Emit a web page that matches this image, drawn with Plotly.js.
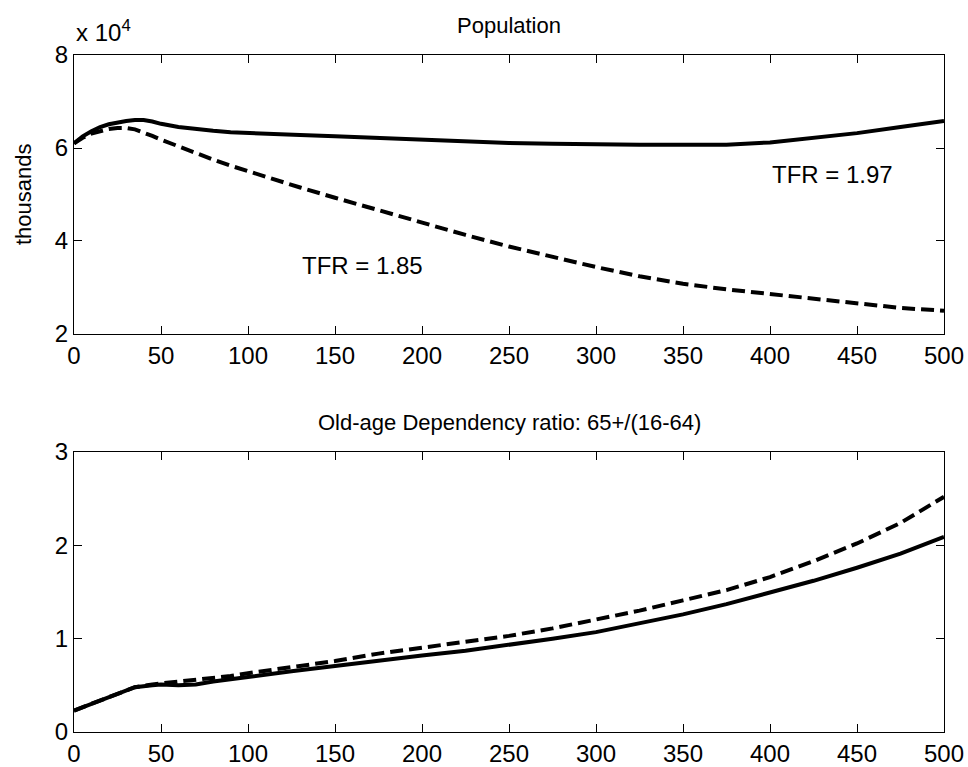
<!DOCTYPE html>
<html>
<head>
<meta charset="utf-8">
<script src="https://cdn.plot.ly/plotly-3.0.1.min.js"></script>
<style>html,body{margin:0;padding:0;background:#fff;}#chart{width:968px;height:767px;}</style>
</head>
<body>
<div id="chart"></div>
<script>
// Top panel: population (thousands)
var yearsTop = [0,5,10,15,20,25,30,35,40,45,50,60,70,80,90,100,115,130,150,175,200,225,250,275,300,325,350,375,400,425,450,475,500];
var popTFR197 = [61000,62500,63600,64500,65100,65500,65800,66000,66000,65700,65200,64500,64000,63700,63400,63200,63000,62800,62500,62100,61800,61400,61100,60900,60700,60700,60700,60700,61200,62100,63200,64500,65800];
var popTFR185 = [61000,62200,63100,63700,64100,64300,64300,64000,63400,62600,61800,60300,58800,57500,56200,55000,53300,51500,49300,46600,43800,41300,38800,36500,34400,32400,30800,29600,28600,27400,26400,25600,25000];

// Bottom panel: old-age dependency ratio
var yearsBottom = [0,10,20,30,35,45,50,60,70,80,90,100,125,150,175,200,225,250,275,300,325,350,375,400,425,450,475,500];
var depTFR197 = [0.23,0.30,0.37,0.45,0.48,0.50,0.51,0.50,0.51,0.54,0.57,0.59,0.65,0.71,0.77,0.82,0.87,0.93,1.00,1.07,1.16,1.26,1.37,1.49,1.62,1.76,1.91,2.09];
var depTFR185 = [0.23,0.30,0.37,0.45,0.48,0.51,0.52,0.53,0.55,0.58,0.60,0.63,0.69,0.76,0.84,0.90,0.96,1.03,1.11,1.20,1.30,1.41,1.52,1.66,1.83,2.02,2.24,2.52];

var topTickVals = [20000,40000,60000,80000];
var topTickText = ['2','4','6','8'];
var xTicks = [0,50,100,150,200,250,300,350,400,450,500];

var FONT = 'Liberation Sans, Arial, Helvetica, sans-serif';
var LW = 4;
var DASH = '13px,6px';

var traces = [
  {x: yearsTop, y: popTFR197, xaxis:'x', yaxis:'y', mode:'lines', line:{color:'#000', width:LW}},
  {x: yearsTop, y: popTFR185, xaxis:'x', yaxis:'y', mode:'lines', line:{color:'#000', width:LW, dash:DASH}},
  {x: yearsBottom, y: depTFR197, xaxis:'x2', yaxis:'y2', mode:'lines', line:{color:'#000', width:LW}},
  {x: yearsBottom, y: depTFR185, xaxis:'x2', yaxis:'y2', mode:'lines', line:{color:'#000', width:LW, dash:DASH}}
];

function axisBase(extra){
  var a = {showgrid:false, zeroline:false, showline:true, linecolor:'#000', linewidth:1,
    mirror:'ticks', ticks:'inside', ticklen:8, tickcolor:'#000', tickwidth:1,
    tickfont:{family:FONT, size:24, color:'#000'}, fixedrange:true};
  for (var k in extra) a[k] = extra[k];
  return a;
}

var layout = {
  width:968, height:767,
  margin:{l:74, r:24, t:55, b:35},
  paper_bgcolor:'#fff', plot_bgcolor:'#fff',
  showlegend:false,
  font:{family:FONT, size:24, color:'#000'},
  xaxis: axisBase({domain:[0,1], range:[0,500], tickvals:xTicks, anchor:'y'}),
  yaxis: axisBase({domain:[0.5879,1], range:[20000,80000], tickvals:topTickVals, ticktext:topTickText, anchor:'x'}),
  xaxis2: axisBase({domain:[0,1], range:[0,500], tickvals:xTicks, anchor:'y2'}),
  yaxis2: axisBase({domain:[0,0.4136], range:[0,3], tickvals:[0,1,2,3], anchor:'x2'}),
  annotations:[
    {text:'Population', xref:'x domain', yref:'y domain', x:0.5, y:1.1075, xanchor:'center', yanchor:'middle', showarrow:false, font:{family:FONT, size:22, color:'#000'}},
    {text:'x 10<sup>4</sup>', xref:'x domain', yref:'y domain', x:0, y:1.085, xanchor:'left', yanchor:'middle', showarrow:false, font:{family:FONT, size:24, color:'#000'}},
    {text:'thousands', xref:'paper', yref:'y domain', x:-0.058, y:0.5, xanchor:'center', yanchor:'middle', textangle:-90, showarrow:false, font:{family:FONT, size:22, color:'#000'}},
    {text:'TFR = 1.97', xref:'x', yref:'y', x:400, y:54200, xanchor:'left', yanchor:'middle', showarrow:false, font:{family:FONT, size:24, color:'#000'}},
    {text:'TFR = 1.85', xref:'x', yref:'y', x:130, y:34800, xanchor:'left', yanchor:'middle', showarrow:false, font:{family:FONT, size:24, color:'#000'}},
    {text:'Old-age Dependency ratio: 65+/(16-64)', xref:'x2 domain', yref:'y2 domain', x:0.5, y:1.107, xanchor:'center', yanchor:'middle', showarrow:false, font:{family:FONT, size:22, color:'#000'}}
  ]
};

Plotly.newPlot('chart', traces, layout, {staticPlot:true, displayModeBar:false});
</script>
</body>
</html>
